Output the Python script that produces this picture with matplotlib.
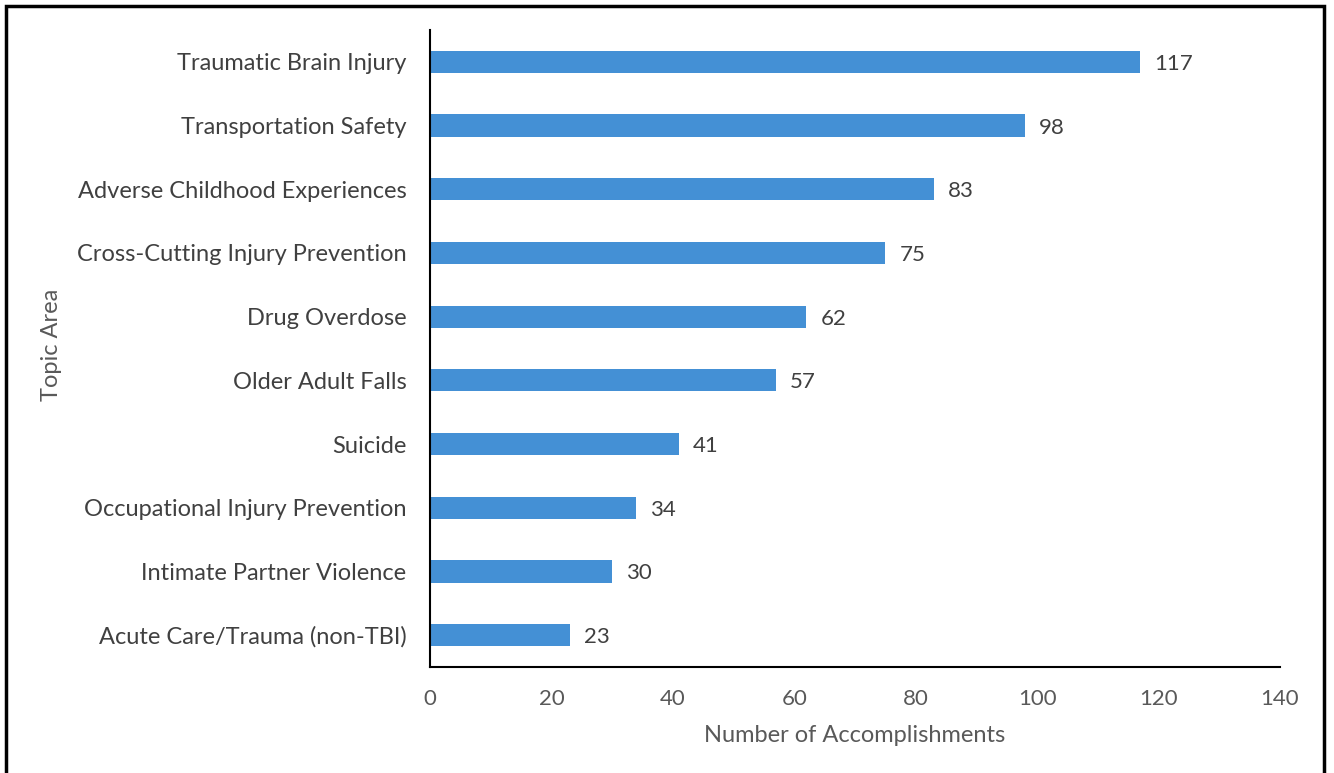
import matplotlib.pyplot as plt
from matplotlib.patches import Rectangle

topics = ['Traumatic Brain Injury', 'Transportation Safety', 'Adverse Childhood Experiences',
          'Cross-Cutting Injury Prevention', 'Drug Overdose', 'Older Adult Falls', 'Suicide',
          'Occupational Injury Prevention', 'Intimate Partner Violence', 'Acute Care/Trauma (non-TBI)']
counts = [117, 98, 83, 75, 62, 57, 41, 34, 30, 23]
xticks = [0, 20, 40, 60, 80, 100, 120, 140]

plt.rcParams['font.family'] = ['Lato', 'DejaVu Sans']
gray = '#595959'

fig = plt.figure(figsize=(13.34, 7.73), dpi=100)
ax = fig.add_axes([430 / 1334, 106 / 773, 850 / 1334, 637 / 773])

ypos = list(range(len(topics)))
ax.barh(ypos, counts, height=0.35, color='#4490D5')
for y, v in zip(ypos, counts):
    ax.text(v + 2.3, y, str(v), va='center_baseline', ha='left', fontsize=16, color='#404040')

ax.set_ylim(len(topics) - 0.5, -0.5)
ax.set_xlim(0, 140)
ax.set_yticks(ypos)
ax.set_yticklabels(topics, fontsize=17, color='#404040')
ax.set_xticks(xticks)
ax.set_xticklabels([str(t) for t in xticks], fontsize=16, color=gray)
ax.tick_params(axis='both', length=0)
ax.tick_params(axis='y', pad=17)
ax.tick_params(axis='x', pad=16)
for lbl in ax.get_yticklabels():
    lbl.set_verticalalignment('center_baseline')

for s in ['top', 'right']:
    ax.spines[s].set_visible(False)
for s in ['left', 'bottom']:
    ax.spines[s].set_linewidth(1.5)
    ax.spines[s].set_color('black')

ax.set_xlabel('Number of Accomplishments', fontsize=17, color=gray, labelpad=11)
fig.text(52 / 1334, 1 - 345 / 773, 'Topic Area', rotation=90, va='center', ha='center',
         fontsize=17, color=gray)

# outer frame around the whole chart
fig.patches.append(Rectangle((6 / 1334, -0.05), 1318 / 1334, 1 - 6 / 773 + 0.05,
                             transform=fig.transFigure, fill=False, edgecolor='black',
                             linewidth=2.5))

fig.savefig('out.png', dpi=100)
